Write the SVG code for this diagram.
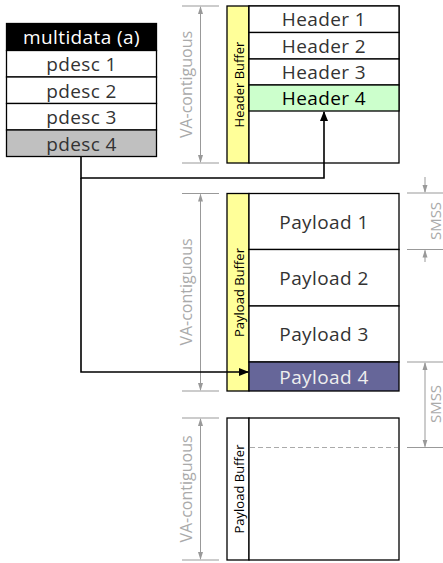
<svg xmlns="http://www.w3.org/2000/svg" width="443" height="563" viewBox="0 0 443 563">
<style>
.box{stroke:#000;stroke-width:1.3}
.t{font-family:"Open Sans","DejaVu Sans",sans-serif;font-size:19px;letter-spacing:0.4px;text-anchor:middle;dominant-baseline:central;fill:#333}
.v{font-family:"Open Sans","DejaVu Sans",sans-serif;font-size:13px;text-anchor:middle;dominant-baseline:central;fill:#000}
.dim{stroke:#999;stroke-width:1;fill:none}
.dt{font-family:"Open Sans","DejaVu Sans",sans-serif;font-size:16px;text-anchor:middle;dominant-baseline:central;fill:#aaa}
.con{stroke:#000;stroke-width:1.6;fill:none}
</style>
<defs>
<marker id="ah" markerWidth="10" markerHeight="10" refX="9" refY="5" orient="auto" markerUnits="userSpaceOnUse"><path d="M0,1 L10,5 L0,9 Z" fill="#000"/></marker>
<marker id="gh" markerWidth="8" markerHeight="8" refX="7" refY="4" orient="auto" markerUnits="userSpaceOnUse"><path d="M0,1.5 L8,4 L0,6.5 Z" fill="#999"/></marker>
</defs>

<g id="multidata">
<rect class="box" x="6.5" y="23.5" width="150" height="27" fill="#000"/>
<text class="t" x="81.5" y="37" style="fill:#fff">multidata (a)</text>
<rect class="box" x="6.5" y="50.5" width="150" height="26.5" fill="#fff"/>
<text class="t" x="81.5" y="64">pdesc 1</text>
<rect class="box" x="6.5" y="77" width="150" height="26.5" fill="#fff"/>
<text class="t" x="81.5" y="90.5">pdesc 2</text>
<rect class="box" x="6.5" y="103.5" width="150" height="26.5" fill="#fff"/>
<text class="t" x="81.5" y="117">pdesc 3</text>
<rect class="box" x="6.5" y="130" width="150" height="26.5" fill="#c0c0c0"/>
<text class="t" x="81.5" y="143.5">pdesc 4</text>
</g>

<g id="header-buffer">
<rect class="box" x="227" y="6" width="22" height="157" fill="#ffff99"/>
<text class="v" transform="translate(238.5,84.5) rotate(-90)">Header Buffer</text>
<rect class="box" x="249" y="6" width="150" height="157" fill="#fff"/>
<rect class="box" x="249" y="6" width="150" height="26.5" fill="#fff"/>
<text class="t" x="324" y="19">Header 1</text>
<rect class="box" x="249" y="32.5" width="150" height="26.5" fill="#fff"/>
<text class="t" x="324" y="45.5">Header 2</text>
<rect class="box" x="249" y="59" width="150" height="26" fill="#fff"/>
<text class="t" x="324" y="72">Header 3</text>
<rect class="box" x="249" y="85" width="150" height="26" fill="#ccffcc"/>
<text class="t" x="324" y="97.5" style="fill:#000">Header 4</text>
</g>

<g id="payload-buffer-1">
<rect class="box" x="227" y="193.5" width="22" height="197.5" fill="#ffff99"/>
<text class="v" transform="translate(238.5,292.5) rotate(-90)">Payload Buffer</text>
<rect class="box" x="249" y="193.5" width="150" height="56" fill="#fff"/>
<text class="t" x="324" y="221.5">Payload 1</text>
<rect class="box" x="249" y="249.5" width="150" height="56.5" fill="#fff"/>
<text class="t" x="324" y="277.5">Payload 2</text>
<rect class="box" x="249" y="306" width="150" height="56" fill="#fff"/>
<text class="t" x="324" y="334">Payload 3</text>
<rect class="box" x="249" y="362" width="150" height="29" fill="#666699"/>
<text class="t" x="324" y="376.5" style="fill:#eee">Payload 4</text>
</g>

<g id="payload-buffer-2">
<rect class="box" x="227" y="418" width="22" height="142" fill="#fff"/>
<text class="v" transform="translate(238.5,489) rotate(-90)">Payload Buffer</text>
<rect class="box" x="249" y="418" width="150" height="142" fill="#fff"/>
<line x1="250" y1="447.5" x2="398" y2="447.5" stroke="#aaa" stroke-width="1" stroke-dasharray="5,3"/>
</g>

<g id="dimensions">
<line class="dim" x1="182" y1="6" x2="219" y2="6"/>
<line class="dim" x1="182" y1="163" x2="219" y2="163"/>
<line class="dim" x1="200.5" y1="84" x2="200.5" y2="7" marker-end="url(#gh)"/>
<line class="dim" x1="200.5" y1="84" x2="200.5" y2="162" marker-end="url(#gh)"/>
<text class="dt" transform="translate(186,84.5) rotate(-90)">VA-contiguous</text>

<line class="dim" x1="182" y1="193.5" x2="219" y2="193.5"/>
<line class="dim" x1="182" y1="391" x2="219" y2="391"/>
<line class="dim" x1="200.5" y1="292" x2="200.5" y2="194.5" marker-end="url(#gh)"/>
<line class="dim" x1="200.5" y1="292" x2="200.5" y2="390" marker-end="url(#gh)"/>
<text class="dt" transform="translate(186,292) rotate(-90)">VA-contiguous</text>

<line class="dim" x1="182" y1="418" x2="219" y2="418"/>
<line class="dim" x1="182" y1="560" x2="219" y2="560"/>
<line class="dim" x1="200.5" y1="489" x2="200.5" y2="419" marker-end="url(#gh)"/>
<line class="dim" x1="200.5" y1="489" x2="200.5" y2="559" marker-end="url(#gh)"/>
<text class="dt" transform="translate(186,489) rotate(-90)">VA-contiguous</text>

<line class="dim" x1="407" y1="193" x2="443" y2="193"/>
<line class="dim" x1="407" y1="249.5" x2="443" y2="249.5"/>
<line class="dim" x1="425" y1="177" x2="425" y2="192" marker-end="url(#gh)"/>
<line class="dim" x1="425" y1="262" x2="425" y2="250.5" marker-end="url(#gh)"/>
<text class="dt" style="font-size:15px" transform="translate(434.5,221) rotate(-90)">SMSS</text>

<line class="dim" x1="407" y1="362" x2="443" y2="362"/>
<line class="dim" x1="407" y1="447.5" x2="443" y2="447.5"/>
<line class="dim" x1="425" y1="404" x2="425" y2="363" marker-end="url(#gh)"/>
<line class="dim" x1="425" y1="404" x2="425" y2="446.5" marker-end="url(#gh)"/>
<text class="dt" style="font-size:15px" transform="translate(434.5,404) rotate(-90)">SMSS</text>
</g>

<g id="connectors">
<polyline class="con" points="81,156.5 81,178 324,178 324,112" marker-end="url(#ah)"/>
<polyline class="con" points="81,178 81,372 248,372" marker-end="url(#ah)"/>
</g>
</svg>
